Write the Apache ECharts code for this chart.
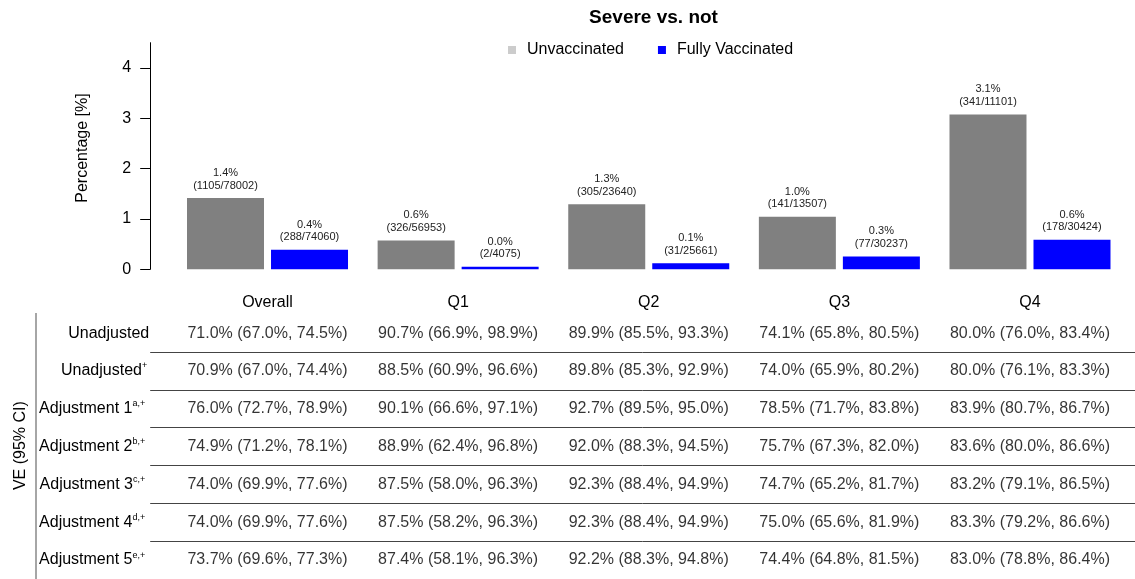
<!DOCTYPE html>
<html>
<head>
<meta charset="utf-8">
<script src="https://cdn.jsdelivr.net/npm/echarts@6/dist/echarts.min.js"></script>
<style>
html,body{margin:0;padding:0;background:#fff;}
#chart{width:1135px;height:579px;}
</style>
</head>
<body>
<div id="chart"></div>
<script>
// ---- data ----
const categories = ['Overall', 'Q1', 'Q2', 'Q3', 'Q4'];
const unvaccinatedPct = [1.417, 0.572, 1.290, 1.044, 3.072];
const vaccinatedPct = [0.389, 0.049, 0.121, 0.255, 0.585];
const unvaccinatedPctLabel = ['1.4%', '0.6%', '1.3%', '1.0%', '3.1%'];
const unvaccinatedCountLabel = ['(1105/78002)', '(326/56953)', '(305/23640)', '(141/13507)', '(341/11101)'];
const vaccinatedPctLabel = ['0.4%', '0.0%', '0.1%', '0.3%', '0.6%'];
const vaccinatedCountLabel = ['(288/74060)', '(2/4075)', '(31/25661)', '(77/30237)', '(178/30424)'];
const yTickValues = [0, 1, 2, 3, 4];
const yMinorTickValues = [0.5, 1.5, 2.5, 3.5, 4.5];

const rowNames = ['Unadjusted', 'Unadjusted', 'Adjustment 1', 'Adjustment 2', 'Adjustment 3', 'Adjustment 4', 'Adjustment 5'];
const rowSups = ['', '+', 'a,+', 'b,+', 'c,+', 'd,+', 'e,+'];
const veOverall = ['71.0% (67.0%, 74.5%)', '70.9% (67.0%, 74.4%)', '76.0% (72.7%, 78.9%)', '74.9% (71.2%, 78.1%)', '74.0% (69.9%, 77.6%)', '74.0% (69.9%, 77.6%)', '73.7% (69.6%, 77.3%)'];
const veQ1 = ['90.7% (66.9%, 98.9%)', '88.5% (60.9%, 96.6%)', '90.1% (66.6%, 97.1%)', '88.9% (62.4%, 96.8%)', '87.5% (58.0%, 96.3%)', '87.5% (58.2%, 96.3%)', '87.4% (58.1%, 96.3%)'];
const veQ2 = ['89.9% (85.5%, 93.3%)', '89.8% (85.3%, 92.9%)', '92.7% (89.5%, 95.0%)', '92.0% (88.3%, 94.5%)', '92.3% (88.4%, 94.9%)', '92.3% (88.4%, 94.9%)', '92.2% (88.3%, 94.8%)'];
const veQ3 = ['74.1% (65.8%, 80.5%)', '74.0% (65.9%, 80.2%)', '78.5% (71.7%, 83.8%)', '75.7% (67.3%, 82.0%)', '74.7% (65.2%, 81.7%)', '75.0% (65.6%, 81.9%)', '74.4% (64.8%, 81.5%)'];
const veQ4 = ['80.0% (76.0%, 83.4%)', '80.0% (76.1%, 83.3%)', '83.9% (80.7%, 86.7%)', '83.6% (80.0%, 86.6%)', '83.2% (79.1%, 86.5%)', '83.3% (79.2%, 86.6%)', '83.0% (78.8%, 86.4%)'];
const veColumns = [veOverall, veQ1, veQ2, veQ3, veQ4];

// ---- chart ----
const FONT = "'Liberation Sans', Arial, Helvetica, sans-serif";
const chart = echarts.init(document.getElementById('chart'), null, {renderer: 'canvas'});

const tableCells = [];
veColumns.forEach((col, c) => col.forEach((_, r) => tableCells.push([c, r])));

const barLabel = (pcts, counts) => ({
  show: true,
  position: 'top',
  distance: 6,
  fontSize: 11,
  lineHeight: 12.8,
  color: '#222',
  fontFamily: FONT,
  formatter: p => pcts[p.dataIndex] + '\n' + counts[p.dataIndex]
});

chart.setOption({
  animation: false,
  textStyle: {fontFamily: FONT},
  title: {
    text: 'Severe vs. not',
    left: 648.5,
    textAlign: 'center',
    top: 3,
    textStyle: {fontSize: 19, fontWeight: 'bold', color: '#000', fontFamily: FONT}
  },
  legend: {
    left: 503,
    top: 37,
    icon: 'rect',
    itemWidth: 8,
    itemHeight: 8,
    itemGap: 34,
    textStyle: {fontSize: 16, color: '#000', fontFamily: FONT, padding: [0, 0, 0, 6]},
    data: [
      {name: 'Unvaccinated', itemStyle: {color: '#cccccc'}},
      {name: 'Fully Vaccinated'}
    ]
  },
  grid: [
    {left: 172.2, width: 953.1, top: 42.7, height: 226.6},
    {left: 172.2, width: 953.1, top: 314.2, height: 268.3}
  ],
  xAxis: [
    {
      type: 'category', gridIndex: 0, data: categories,
      axisLine: {show: false}, axisTick: {show: false},
      axisLabel: {fontSize: 16, color: '#000', margin: 25, fontFamily: FONT}
    },
    {type: 'category', gridIndex: 1, data: categories, show: false}
  ],
  yAxis: [
    {
      type: 'value', gridIndex: 0, min: 0, max: 4.5, interval: 1, offset: 22,
      axisLine: {show: true, lineStyle: {color: '#000', width: 1}},
      axisTick: {show: true, length: 10, lineStyle: {color: '#000'}, customValues: yTickValues},
      axisLabel: {fontSize: 16, color: '#000', margin: 19, customValues: yTickValues, fontFamily: FONT},
      splitLine: {show: false},
      name: 'Percentage [%]', nameLocation: 'middle', nameGap: 60,
      nameTextStyle: {fontSize: 16, color: '#000', fontFamily: FONT, padding: [0, 0, 0, 16]}
    },
    {
      type: 'value', gridIndex: 0, min: 0, max: 4.5, interval: 0.5, offset: 22,
      axisLine: {show: false},
      axisTick: {show: true, length: 3, lineStyle: {color: '#000'}, customValues: yMinorTickValues},
      axisLabel: {show: false},
      splitLine: {show: false}
    },
    {
      type: 'category', gridIndex: 1, data: rowNames, inverse: true, offset: 22,
      axisLine: {show: false},
      axisTick: {show: true, inside: true, length: 985, interval: (i) => i > 0, lineStyle: {color: '#444', width: 1}},
      axisLabel: {
        interval: 0, margin: 1, fontSize: 16, color: '#000', fontFamily: FONT,
        formatter: (v, i) => '{m|' + v + '}' + (rowSups[i] ? '{s|' + rowSups[i] + '}' : '') + (i >= 2 ? '{p|}' : (i === 1 ? '{q|}' : '')),
        rich: {
          m: {fontSize: 16, color: '#000', fontFamily: FONT, lineHeight: 19},
          s: {fontSize: 9, color: '#000', fontFamily: FONT, verticalAlign: 'top', lineHeight: 9},
          p: {width: 4},
          q: {width: 2}
        }
      },
      name: 'VE (95% CI)', nameLocation: 'middle', nameGap: 121,
      nameTextStyle: {fontSize: 16, color: '#000', fontFamily: FONT, padding: [0, 0, 0, 2]}
    }
  ],
  graphic: [
    {type: 'line', shape: {x1: 36, y1: 313, x2: 36, y2: 579}, style: {stroke: '#888', lineWidth: 1.5}, silent: true}
  ],
  series: [
    {
      name: 'Unvaccinated', type: 'bar', xAxisIndex: 0, yAxisIndex: 0,
      data: unvaccinatedPct, barWidth: 77, barGap: '9.1%',
      itemStyle: {color: '#808080'},
      label: barLabel(unvaccinatedPctLabel, unvaccinatedCountLabel)
    },
    {
      name: 'Fully Vaccinated', type: 'bar', xAxisIndex: 0, yAxisIndex: 0,
      data: vaccinatedPct, barWidth: 77, barGap: '9.1%',
      itemStyle: {color: '#0000ff'},
      label: barLabel(vaccinatedPctLabel, vaccinatedCountLabel)
    },
    {
      name: 'table', type: 'scatter', xAxisIndex: 1, yAxisIndex: 2,
      data: tableCells, symbolSize: 0, silent: true,
      label: {
        show: true, position: 'inside', fontSize: 16, color: '#000', fontFamily: FONT,
        formatter: p => veColumns[p.value[0]][p.value[1]]
      }
    }
  ]
});
</script>
</body>
</html>
